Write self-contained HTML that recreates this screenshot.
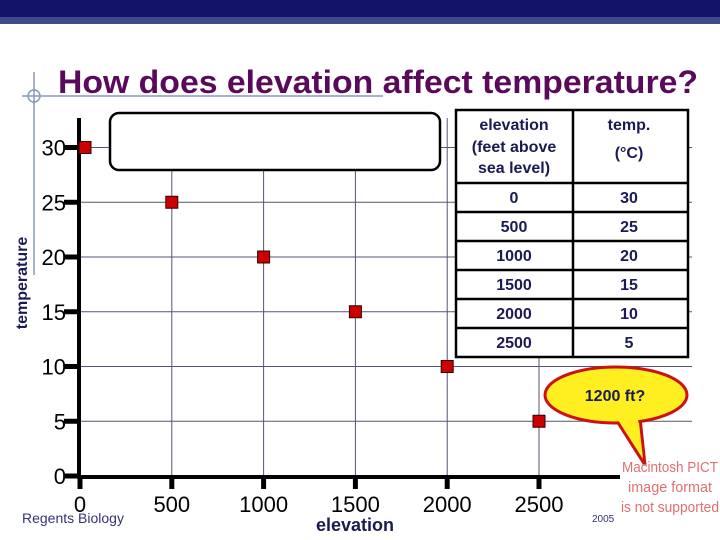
<!DOCTYPE html>
<html><head><meta charset="utf-8"><style>
body{margin:0;width:720px;height:540px;overflow:hidden;background:#fff;font-family:"Liberation Sans",sans-serif}
svg{display:block}
</style></head><body>
<svg width="720" height="540">
<rect x="0" y="0" width="720" height="17" fill="#13136a"/>
<rect x="0" y="17" width="720" height="7" fill="#3f4a8c"/>
<line x1="22" y1="96" x2="383" y2="96" stroke="#8899bb" stroke-width="1.5"/>
<line x1="34" y1="72" x2="34" y2="275" stroke="#8899bb" stroke-width="1.5"/>
<circle cx="34" cy="96" r="6" fill="none" stroke="#8899bb" stroke-width="1.5"/>
<text x="58" y="93" font-size="32" font-weight="bold" fill="#5a0a5a" textLength="640" lengthAdjust="spacingAndGlyphs">How does elevation affect temperature?</text>
<g id="grid"></g>
<g id="axes"></g>
<rect x="110" y="113" width="330" height="57" rx="9" fill="#fff" stroke="#000" stroke-width="2.5"/>
<g id="table"></g>
<g id="points"></g>
<g>
<path d="M615,418 L645,465 L640,418 Z" fill="#ffef20" stroke="#cc1111" stroke-width="3"/>
<ellipse cx="616" cy="395" rx="71" ry="28" fill="#ffef20" stroke="#cc1111" stroke-width="3"/>
<path d="M618,420 L643,458 L638,419 Z" fill="#ffef20"/>
<text x="615" y="401" font-size="16" font-weight="bold" fill="#1a1a55" text-anchor="middle">1200 ft?</text>
</g>
<g font-size="15" fill="#e07070" text-anchor="middle">
<text x="670" y="472" textLength="96" lengthAdjust="spacingAndGlyphs">Macintosh PICT</text><text x="670" y="492" textLength="84" lengthAdjust="spacingAndGlyphs">image format</text><text x="670" y="512" textLength="98" lengthAdjust="spacingAndGlyphs">is not supported</text>
</g>
<text x="22" y="523" font-size="14" fill="#333377">Regents Biology</text>
<text x="592" y="522" font-size="10" fill="#333377">2005</text>
<text x="355" y="531" font-size="18" font-weight="bold" fill="#1a1a55" text-anchor="middle">elevation</text>
<text transform="translate(27,283) rotate(-90)" font-size="16" font-weight="bold" fill="#1a1a55" text-anchor="middle">temperature</text>
</svg>
<script>
const elevations=[0,500,1000,1500,2000,2500];
const temps=[30,25,20,15,10,5];
const xTicks=[0,500,1000,1500,2000,2500];
const yTicks=[0,5,10,15,20,25,30];
const NS="http://www.w3.org/2000/svg";
function X(v){return 80+v*0.1836;}
function Y(v){return 476-v*10.95;}
function mk(p,t,a){const e=document.createElementNS(NS,t);for(const k in a)e.setAttribute(k,a[k]);p.appendChild(e);return e;}
const grid=document.getElementById('grid'),axes=document.getElementById('axes'),pts=document.getElementById('points'),tb=document.getElementById('table');
xTicks.forEach(v=>{if(v>0){const l=mk(grid,'line',{x1:X(v),y1:118,x2:X(v),y2:476,stroke:'#555577','stroke-width':1});

}
const t=mk(axes,'line',{x1:X(v),y1:476,x2:X(v),y2:489,stroke:'#000','stroke-width':5});


const tx=mk(axes,'text',{x:X(v),y:512,'font-size':22,'text-anchor':'middle',fill:'#000'});tx.textContent=v;

});
yTicks.forEach(v=>{if(v>0){const l=mk(grid,'line',{x1:80,y1:Y(v),x2:692,y2:Y(v),stroke:'#555577','stroke-width':1});

}
const t=mk(axes,'line',{x1:64,y1:Y(v),x2:80,y2:Y(v),stroke:'#000','stroke-width':5});


const tx=mk(axes,'text',{x:66,y:Y(v)+8,'font-size':22,'text-anchor':'end',fill:'#000'});tx.textContent=v;

});
const ya=mk(axes,'line',{x1:79,y1:118,x2:79,y2:478,stroke:'#000','stroke-width':4});


const xa=mk(axes,'line',{x1:77,y1:477,x2:620,y2:477,stroke:'#000','stroke-width':4});


// table
mk(tb,'rect',{x:456,y:110,width:232,height:247,fill:'#fff',stroke:'#000','stroke-width':2.5});
mk(tb,'line',{x1:573,y1:110,x2:573,y2:357,stroke:'#000','stroke-width':2.5});
[['elevation',125],['(feet above',147],['sea level)',168]].forEach(([s,y])=>{const t=mk(tb,'text',{x:514,y:y+5,'font-size':16,'font-weight':'bold','text-anchor':'middle',fill:'#1a1a55'});t.textContent=s;});
[['temp.',125],['(°C)',153]].forEach(([s,y])=>{const t=mk(tb,'text',{x:629,y:y+5,'font-size':16,'font-weight':'bold','text-anchor':'middle',fill:'#1a1a55'});t.textContent=s;});
elevations.forEach((e,i)=>{const y0=183+i*29;
mk(tb,'line',{x1:456,y1:y0,x2:688,y2:y0,stroke:'#000','stroke-width':2.5});
const a=mk(tb,'text',{x:514,y:y0+20,'font-size':16,'font-weight':'bold','text-anchor':'middle',fill:'#1a1a55'});a.textContent=e;
const b=mk(tb,'text',{x:629,y:y0+20,'font-size':16,'font-weight':'bold','text-anchor':'middle',fill:'#1a1a55'});b.textContent=temps[i];});
elevations.forEach((e,i)=>{const cx=Math.max(X(e),85);
const r=mk(pts,'rect',{x:cx-6,y:Y(temps[i])-6,width:12,height:12,fill:'#cc0000',stroke:'#330000','stroke-width':1});

});
</script>
</body></html>
